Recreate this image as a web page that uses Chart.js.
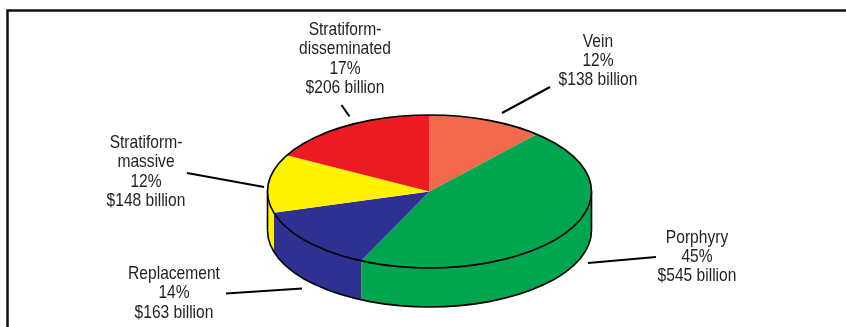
<!DOCTYPE html>
<html>
<head>
<meta charset="utf-8">
<script src="https://cdn.jsdelivr.net/npm/chart.js@4.4.1/dist/chart.umd.min.js"></script>
<style>
  html, body { margin: 0; padding: 0; background: #fff; }
  #wrap { position: relative; width: 846px; height: 327px; }
</style>
</head>
<body>
<div id="wrap"><canvas id="pieChart" width="846" height="327"></canvas></div>
<script>
// data (clockwise from 12 o'clock)
const categories    = ["Vein", "Porphyry", "Replacement", "Stratiform-massive", "Stratiform-disseminated"];
const valueBillions = [138, 545, 163, 148, 206];
const percentLabels = ["12%", "45%", "14%", "12%", "17%"];

// styles
const sliceColors = ["#F26A4B", "#00A550", "#2E3192", "#FFF200", "#ED1C24"];
const TILT  = 0.472;   // ellipse height / width
const DEPTH = 39;      // thickness of the disc, px
const FONT  = '19px "Liberation Sans", Arial, sans-serif';
const NARROW = 0.82;   // condensed look of the original type
const LINE_GAP = 19.3;

// label placement: text centre x, first baseline y, leader line (outer -> inner)
const labelLayout = [
  { x: 598, y: 46.5, leader: [550, 87, 502, 113] },
  { x: 697, y: 242.5, leader: [656, 257, 588, 263] },
  { x: 174, y: 279, leader: [226, 293.5, 302, 288.5] },
  { x: 146, y: 148, leader: [187, 173, 264, 187] },
  { x: 345, y: 35, leader: [341.5, 105, 349.5, 116.5] }
];

function ellipseGeom(chart) {
  const arc = chart.getDatasetMeta(0).data[0];
  return { cx: arc.x, cy: arc.y, r: arc.outerRadius, ry: arc.outerRadius * TILT };
}

const pie3d = {
  id: "pie3d",
  beforeDraw(chart) {
    // frame round the figure (top and left edges)
    const ctx = chart.ctx;
    ctx.save();
    ctx.strokeStyle = "#111";
    ctx.lineWidth = 2.5;
    ctx.beginPath();
    ctx.moveTo(7.5, 327);
    ctx.lineTo(7.5, 10.5);
    ctx.lineTo(846, 10.5);
    ctx.stroke();
    ctx.restore();
  },
  beforeDatasetsDraw(chart) {
    const ctx = chart.ctx;
    const meta = chart.getDatasetMeta(0);
    const { cx, cy, r, ry } = ellipseGeom(chart);

    // side walls: only the front half (canvas angles 0..PI) is visible
    meta.data.forEach((arc, i) => {
      const a = Math.max(arc.startAngle, 0);
      const b = Math.min(arc.endAngle, Math.PI);
      if (b <= a) return;
      ctx.beginPath();
      ctx.ellipse(cx, cy, r, ry, 0, a, b);
      ctx.ellipse(cx, cy + DEPTH, r, ry, 0, b, a, true);
      ctx.closePath();
      ctx.fillStyle = sliceColors[i];
      ctx.fill();
    });

    ctx.save();
    ctx.strokeStyle = "#000";
    ctx.lineWidth = 1.6;
    ctx.beginPath();
    ctx.ellipse(cx, cy + DEPTH, r, ry, 0, 0, Math.PI);
    ctx.stroke();
    ctx.beginPath();
    ctx.moveTo(cx - r, cy);
    ctx.lineTo(cx - r, cy + DEPTH);
    ctx.moveTo(cx + r, cy);
    ctx.lineTo(cx + r, cy + DEPTH);
    ctx.stroke();
    ctx.restore();

    // squash the top of the pie into an ellipse
    ctx.save();
    ctx.translate(0, cy);
    ctx.scale(1, TILT);
    ctx.translate(0, -cy);
  },
  afterDatasetsDraw(chart) {
    const ctx = chart.ctx;
    ctx.restore();
    const { cx, cy, r, ry } = ellipseGeom(chart);
    ctx.save();
    ctx.strokeStyle = "#000";
    ctx.lineWidth = 1.6;
    ctx.beginPath();
    ctx.ellipse(cx, cy, r, ry, 0, 0, Math.PI * 2);
    ctx.stroke();
    ctx.restore();
  },
  afterDraw(chart) {
    const ctx = chart.ctx;
    ctx.save();
    ctx.strokeStyle = "#000";
    ctx.lineWidth = 2;
    categories.forEach((name, i) => {
      const pos = labelLayout[i];
      const lines = name.replace("-", "-\n").split("\n");
      lines.push(percentLabels[i], "$" + valueBillions[i] + " billion");
      lines.forEach((t, k) => {
        ctx.save();
        ctx.font = FONT;
        ctx.fillStyle = "#231F20";
        ctx.textAlign = "center";
        ctx.textBaseline = "alphabetic";
        ctx.translate(pos.x, pos.y + k * LINE_GAP);
        ctx.scale(NARROW, 1);
        ctx.fillText(t, 0, 0);
        ctx.restore();
      });
      const l = pos.leader;
      ctx.beginPath();
      ctx.moveTo(l[0], l[1]);
      ctx.lineTo(l[2], l[3]);
      ctx.stroke();
    });
    ctx.restore();
  }
};

new Chart(document.getElementById("pieChart"), {
  type: "pie",
  data: {
    labels: categories,
    datasets: [{
      data: valueBillions,
      backgroundColor: sliceColors,
      borderWidth: 0,
      radius: 162,
      clip: false
    }]
  },
  options: {
    responsive: false,
    animation: false,
    events: [],
    layout: { padding: { left: 300, right: 287, top: 100, bottom: 44 } },
    plugins: {
      legend: { display: false },
      tooltip: { enabled: false },
      title: { display: false }
    }
  },
  plugins: [pie3d]
});
</script>
</body>
</html>
